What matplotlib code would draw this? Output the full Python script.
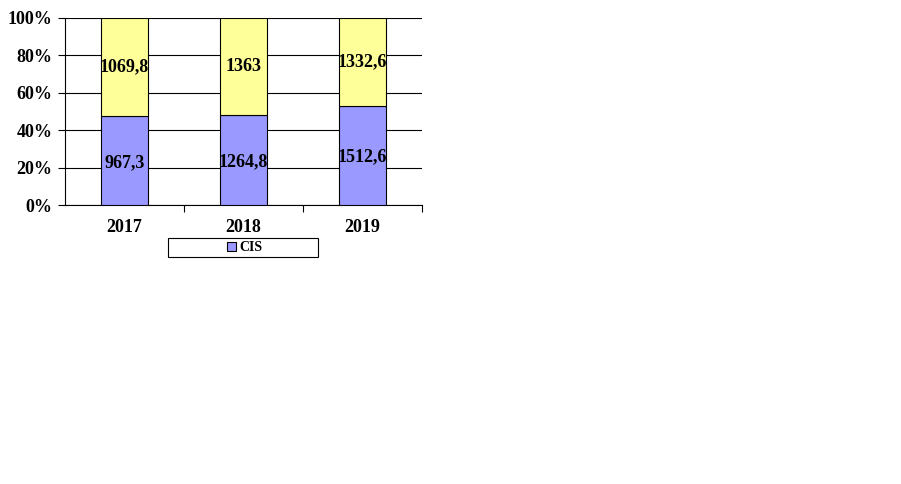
import matplotlib.pyplot as plt
from matplotlib.patches import Rectangle

years = ['2017', '2018', '2019']
cis = [967.3, 1264.8, 1512.6]
other = [1069.8, 1363.0, 1332.6]
cis_labels = ['967,3', '1264,8', '1512,6']
other_labels = ['1069,8', '1363', '1332,6']

plt.rcParams['font.family'] = ['Liberation Serif', 'DejaVu Serif']
plt.rcParams['font.weight'] = 'bold'

fig = plt.figure(figsize=(9.01, 4.84), dpi=100)

W, H = 901, 484
ax = fig.add_axes([65 / W, 1 - 205 / H, (422 - 65) / W, (205 - 18) / H])

tot = [a + b for a, b in zip(cis, other)]
p_cis = [a / t * 100 for a, t in zip(cis, tot)]
p_oth = [b / t * 100 for b, t in zip(other, tot)]
x = list(range(len(years)))

ax.bar(x, p_cis, width=0.4, color='#9999ff', edgecolor='black', linewidth=0.8, zorder=3, label='CIS')
ax.bar(x, p_oth, bottom=p_cis, width=0.4, color='#ffff99', edgecolor='black', linewidth=0.8, zorder=3)

for i in x:
    ax.text(i, p_cis[i] / 2 - 1, cis_labels[i], ha='center', va='center', fontsize=13,
            weight='bold', zorder=4)
    ax.text(i, p_cis[i] + p_oth[i] / 2, other_labels[i], ha='center', va='center',
            fontsize=13, weight='bold', zorder=4)

ax.set_xlim(-0.5, 2.5)
ax.set_ylim(0, 100)
ax.set_yticks(range(0, 101, 20))
ax.set_yticklabels([f'{v}%' for v in range(0, 101, 20)], fontsize=13, weight='bold')
ax.yaxis.grid(True, color='black', linewidth=0.8, zorder=1)
ax.set_axisbelow(True)

ax.set_xticks([0.5, 1.5, 2.5])
ax.set_xticklabels([])
ax.set_xticks(x, minor=True)
ax.set_xticklabels(years, minor=True, fontsize=13, weight='bold')
ax.tick_params(axis='x', which='minor', length=0, pad=10)
ax.tick_params(axis='x', which='major', length=5, direction='out')
ax.tick_params(axis='y', length=5, direction='out', pad=4)

for s in ['top', 'right']:
    ax.spines[s].set_visible(False)
ax.spines['left'].set_linewidth(0.8)
ax.spines['bottom'].set_linewidth(0.8)

# legend box drawn separately so it can be wider than its single entry
fig.patches.append(Rectangle((168 / W, 1 - 257 / H), 150 / W, 19 / H, transform=fig.transFigure,
                             facecolor='white', edgecolor='black', linewidth=0.8, zorder=5))
leg = fig.legend(loc='center', bbox_to_anchor=(245 / W, 1 - 247.5 / H), frameon=False,
                 handlelength=0.6, handleheight=0.6, handletextpad=0.3, borderpad=0.1,
                 prop={'weight': 'bold', 'size': 10})
leg.set_zorder(6)

fig.savefig('out.png', dpi=100)
